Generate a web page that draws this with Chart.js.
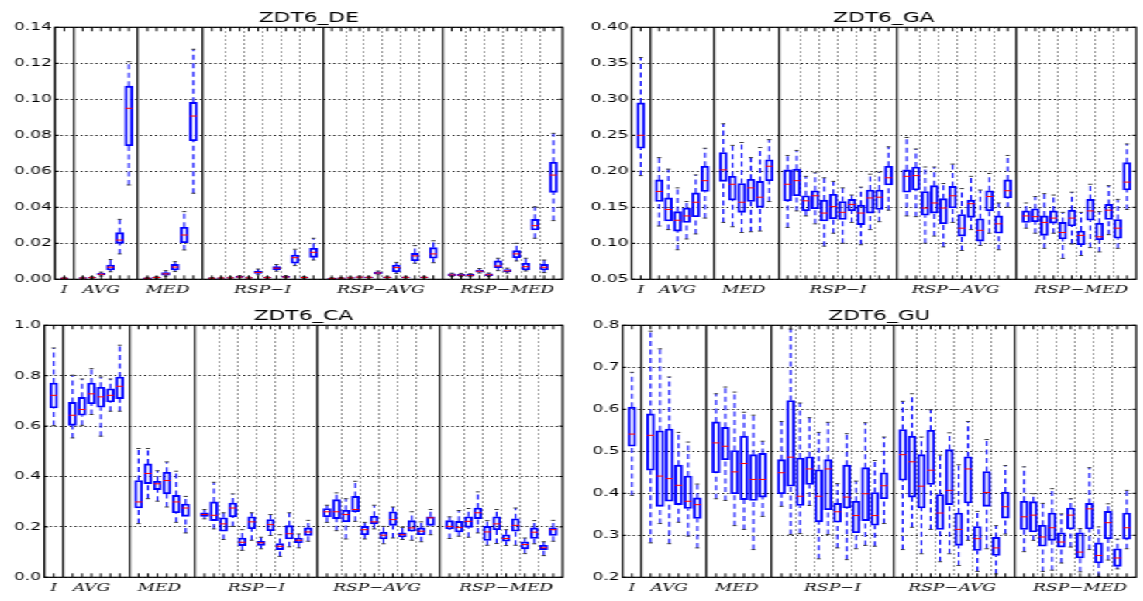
<!DOCTYPE html>
<html>
<head>
<meta charset="utf-8">
<script src="https://cdn.jsdelivr.net/npm/chart.js@4.4.0/dist/chart.umd.min.js"></script>
<style>
html, body { margin: 0; padding: 0; background: #fff; overflow: hidden; }
/* the figure is stretched sideways, so draw narrow and scale it */
#wrap { position: absolute; left: 0; top: 0; width: 738px; height: 601px; transform: scaleX(1.55); transform-origin: 0 0; }
#wrap canvas { position: absolute; }
</style>
</head>
<body>
<div id="wrap">
  <canvas id="cDE" width="368" height="300" style="left:0px;top:0px"></canvas>
  <canvas id="cGA" width="366" height="300" style="left:372px;top:0px"></canvas>
  <canvas id="cCA" width="368" height="300" style="left:0px;top:298.4px"></canvas>
  <canvas id="cGU" width="366" height="300" style="left:372px;top:298.4px"></canvas>
</div>
<script>
// groups along x
const groups = ['I', 'AVG', 'MED', 'RSP\u2212I', 'RSP\u2212AVG', 'RSP\u2212MED'];
const groupSize = [1, 6, 6, 12, 12, 12];
const labelX = [1, 5, 12.2, 22.5, 35.3, 49];

// ZDT6_DE
const deMin = [.0002, .0002,.0004,.0018,.0042,.0141,.0524, .0002,.0005,.0017,.0043,.0163,.0478, .0003,.0003,.0004,.0008,.0004,.0025,.0005,.0045,.0008,.0076,.0005,.0107, .0002,.0003,.0004,.0008,.0007,.0025,.0007,.0033,.0007,.0089,.0007,.0092, .0015,.0015,.0014,.0035,.0016,.0048,.0035,.0102,.0046,.0228,.0037,.0326];
const deQ1  = [.0004, .0005,.0007,.0024,.0052,.0200,.0742, .0004,.0008,.0023,.0052,.0203,.0770, .0005,.0005,.0006,.0011,.0006,.0033,.0007,.0053,.0011,.0089,.0008,.0122, .0004,.0005,.0006,.0010,.0009,.0030,.0009,.0042,.0009,.0103,.0009,.0117, .0019,.0019,.0018,.0040,.0020,.0064,.0042,.0120,.0052,.0274,.0052,.0483];
const deMed = [.0006, .0007,.0009,.0028,.0067,.0218,.0950, .0006,.0010,.0030,.0068,.0246,.0907, .0006,.0007,.0008,.0013,.0008,.0038,.0009,.0062,.0013,.0120,.0010,.0150, .0005,.0006,.0008,.0012,.0011,.0035,.0011,.0065,.0011,.0130,.0011,.0141, .0024,.0023,.0022,.0045,.0025,.0074,.0047,.0141,.0070,.0298,.0067,.0579];
const deQ3  = [.0008, .0009,.0011,.0033,.0079,.0259,.1073, .0008,.0012,.0037,.0083,.0289,.0983, .0008,.0008,.0010,.0016,.0010,.0045,.0011,.0070,.0016,.0135,.0012,.0172, .0007,.0008,.0010,.0014,.0013,.0040,.0013,.0079,.0013,.0144,.0013,.0176, .0030,.0028,.0027,.0051,.0030,.0102,.0054,.0159,.0089,.0333,.0083,.0650];
const deMax = [.0011, .0012,.0014,.0040,.0110,.0333,.1209, .0011,.0015,.0048,.0098,.0376,.1278, .0010,.0011,.0013,.0020,.0013,.0057,.0014,.0082,.0020,.0167,.0015,.0228, .0009,.0010,.0013,.0018,.0017,.0046,.0017,.0094,.0017,.0187,.0017,.0214, .0034,.0033,.0031,.0060,.0035,.0117,.0062,.0200,.0117,.0403,.0107,.0811];

// ZDT6_GA
const gaMin = [.194, .124,.119,.091,.106,.113,.135, .129,.123,.115,.116,.117,.158, .122,.145,.138,.127,.096,.114,.100,.129,.098,.119,.130,.146, .138,.137,.100,.110,.095,.129,.090,.119,.097,.114,.091,.150, .121,.114,.093,.114,.079,.099,.083,.094,.088,.112,.093,.147];
const gaQ1  = [.232, .158,.131,.117,.129,.137,.172, .186,.160,.143,.158,.150,.187, .159,.166,.145,.148,.131,.134,.133,.145,.126,.142,.147,.181, .171,.174,.139,.142,.127,.149,.110,.136,.103,.145,.114,.163, .129,.130,.111,.128,.106,.124,.098,.132,.105,.133,.107,.174];
const gaMed = [.250, .172,.147,.132,.138,.157,.187, .202,.182,.157,.177,.164,.207, .182,.187,.159,.166,.142,.151,.143,.154,.142,.163,.164,.191, .193,.194,.149,.156,.149,.166,.121,.155,.118,.165,.127,.173, .138,.137,.129,.135,.115,.135,.111,.145,.109,.146,.121,.185];
const gaQ3  = [.295, .188,.163,.144,.149,.170,.207, .226,.193,.183,.189,.186,.216, .202,.203,.166,.173,.160,.168,.158,.161,.153,.174,.174,.207, .202,.206,.172,.180,.162,.179,.140,.160,.134,.173,.138,.188, .145,.148,.138,.145,.129,.146,.117,.161,.128,.154,.133,.212];
const gaMax = [.358, .219,.203,.177,.158,.195,.232, .266,.236,.240,.219,.233,.244, .222,.229,.193,.198,.191,.186,.177,.167,.178,.196,.199,.234, .247,.231,.206,.206,.183,.210,.176,.193,.174,.197,.156,.222, .156,.165,.169,.167,.143,.171,.143,.182,.144,.180,.161,.238];

// ZDT6_CA
const caMin = [.602, .553,.603,.646,.560,.659,.659, .213,.312,.302,.279,.218,.176, .232,.192,.150,.202,.107,.147,.113,.166,.083,.121,.117,.143, .218,.185,.152,.222,.152,.192,.133,.156,.150,.147,.141,.169, .154,.163,.159,.176,.127,.134,.126,.127,.094,.133,.086,.143];
const caQ1  = [.672, .603,.643,.689,.675,.696,.709, .275,.372,.348,.331,.256,.242, .242,.225,.183,.240,.126,.193,.127,.185,.110,.152,.137,.166, .240,.233,.220,.260,.169,.212,.152,.206,.160,.183,.169,.206, .192,.180,.198,.233,.146,.189,.143,.183,.113,.154,.110,.166];
const caMed = [.722, .643,.666,.728,.716,.722,.758, .299,.412,.371,.384,.299,.275, .249,.246,.212,.275,.139,.220,.137,.209,.123,.173,.147,.180, .260,.260,.249,.269,.189,.220,.167,.229,.169,.196,.183,.236, .202,.198,.222,.256,.180,.212,.154,.206,.130,.179,.117,.189];
const caQ3  = [.771, .694,.714,.771,.754,.748,.795, .384,.450,.381,.417,.325,.291, .256,.299,.236,.295,.156,.240,.143,.229,.134,.205,.156,.196, .273,.308,.266,.321,.202,.242,.179,.260,.176,.225,.196,.240, .225,.222,.240,.275,.202,.240,.169,.232,.141,.196,.127,.196];
const caMax = [.910, .802,.787,.828,.795,.787,.921, .511,.511,.423,.458,.421,.321, .269,.377,.256,.331,.189,.256,.159,.249,.169,.256,.172,.226, .286,.335,.312,.381,.218,.286,.202,.279,.198,.260,.220,.269, .240,.265,.273,.339,.225,.269,.189,.275,.156,.225,.141,.226];

// ZDT6_GU
const guMin = [.395, .282,.328,.280,.331,.298,.270, .387,.383,.323,.314,.266,.345, .369,.302,.304,.371,.244,.302,.270,.242, .268,.276,.274,.328, .266,.319,.256,.314,.237,.256,.228,.288,.214,.268,.208,.303, .261,.288,.214,.217,.234,.272,.213,.266,.202,.241,.220,.268];
const guQ1  = [.512, .455,.369,.381,.373,.364,.340, .449,.480,.399,.385,.383,.391, .399,.417,.371,.421,.332,.361,.331,.365, .306,.335,.324,.387, .431,.391,.365,.421,.314,.373,.276,.377,.264,.369,.252,.341, .314,.308,.274,.288,.272,.315,.246,.315,.234,.292,.226,.291];
const guMed = [.541, .538,.441,.435,.419,.381,.373, .520,.512,.451,.471,.433,.433, .449,.486,.393,.458,.393,.458,.356,.391, .347,.399,.347,.418, .492,.475,.417,.455,.353,.407,.314,.458,.292,.402,.270,.368, .344,.348,.296,.318,.284,.348,.260,.363,.252,.330,.246,.318];
const guQ3  = [.605, .589,.549,.553,.467,.441,.389, .570,.557,.502,.536,.492,.495, .480,.621,.484,.487,.456,.480,.376,.467, .381,.461,.402,.449, .552,.536,.492,.550,.397,.504,.353,.487,.321,.452,.295,.403, .381,.380,.324,.353,.306,.365,.306,.376,.282,.357,.268,.353];
const guMax = [.688, .786,.744,.677,.545,.522,.422, .637,.653,.641,.593,.586,.524, .571,.791,.615,.580,.545,.569,.423,.542, .429,.568,.478,.534, .619,.637,.534,.599,.491,.544,.468,.571,.357,.528,.323,.466, .463,.399,.376,.411,.351,.387,.316,.461,.320,.375,.291,.407];

// box positions: one empty slot before/after every group
const boxX = [], sepX = [], pairX = [];
let pos = 0;
groupSize.forEach((n, g) => {
  for (let k = 1; k <= n; k++) boxX.push(pos + k);
  if (n > 6) for (let k = 2; k < n; k += 2) pairX.push(pos + k + 0.5);
  pos += n + 1;
  if (g < groupSize.length - 1) sepX.push(pos);
});
const xMax = pos;

const frame = {
  id: 'frame',
  afterDatasetsDraw(chart) {
    const {ctx, chartArea: a, scales} = chart;
    ctx.save();
    ctx.strokeStyle = '#000';
    ctx.lineWidth = 1;
    ctx.beginPath();
    boxX.forEach(v => {
      const px = scales.x.getPixelForValue(v);
      ctx.moveTo(px, a.bottom); ctx.lineTo(px, a.bottom - 4);
      ctx.moveTo(px, a.top); ctx.lineTo(px, a.top + 4);
    });
    scales.y.ticks.forEach(t => {
      const py = scales.y.getPixelForValue(t.value);
      ctx.moveTo(a.left, py); ctx.lineTo(a.left + 2.5, py);
      ctx.moveTo(a.right, py); ctx.lineTo(a.right - 2.5, py);
    });
    ctx.stroke();
    ctx.lineWidth = 1.2;
    ctx.strokeRect(a.left, a.top, a.right - a.left, a.bottom - a.top);
    ctx.restore();
  }
};

function xAxis(ticksAt, extra) {
  return Object.assign({
    type: 'linear', axis: 'x', position: 'bottom', min: 0, max: xMax, offset: false,
    afterBuildTicks: a => { a.ticks = ticksAt.map(v => ({value: v})); }
  }, extra);
}

function panel(id, title, yMin, yMax, yStep, yDec, yW, padR, mins, q1s, meds, q3s, maxs) {
  const whisk = [], caps = [], boxes = [], medPts = [];
  boxX.forEach((x, i) => {
    whisk.push({x: x, y: mins[i]}, {x: x, y: q1s[i]}, {x: x, y: null},
               {x: x, y: q3s[i]}, {x: x, y: maxs[i]}, {x: x, y: null});
    caps.push({x: x, y: mins[i]}, {x: x, y: maxs[i]});
    boxes.push({x: x, y: [q1s[i], q3s[i]]});
    medPts.push({x: x, y: meds[i]});
  });

  new Chart(document.getElementById(id), {
    type: 'bar',
    data: {
      datasets: [
        {type: 'line', data: medPts, showLine: false, pointStyle: 'line', pointRadius: 2.3,
         pointBorderColor: '#ff0000', pointBorderWidth: 1, order: 0},
        {type: 'line', data: caps, showLine: false, pointStyle: 'line', pointRadius: 1.3,
         pointBorderColor: '#333', pointBorderWidth: 1, order: 1},
        {type: 'bar', data: boxes, backgroundColor: 'rgba(0,0,0,0)', borderColor: '#0000ff',
         borderWidth: 1.2, borderSkipped: false, barThickness: 5, grouped: false, order: 2},
        {type: 'line', data: whisk, borderColor: '#0000ff', borderWidth: 1.1, borderDash: [5, 3.5],
         pointRadius: 0, spanGaps: false, fill: false, order: 3}
      ]
    },
    options: {
      responsive: false,
      animation: false,
      events: [],
      layout: {padding: {left: 0, right: padR, top: 0, bottom: 0.7}},
      plugins: {
        legend: {display: false},
        tooltip: {enabled: false},
        title: {
          display: true, text: title, color: '#000', fullSize: false,
          font: {family: 'DejaVu Sans', size: 14, weight: 'normal', lineHeight: 1.2},
          padding: {top: 9.5, bottom: 1}
        }
      },
      scales: {
        x: xAxis(pairX, {
          grid: {color: '#777', lineWidth: 1, drawTicks: false, offset: false},
          border: {display: false, dash: [1.5, 2.5]},
          ticks: {display: false},
          afterFit: a => { a.height = 0; }
        }),
        xs: xAxis(sepX, {
          grid: {color: '#222', lineWidth: 1.3, drawTicks: false, offset: false},
          border: {display: false},
          ticks: {display: false},
          afterFit: a => { a.height = 0; }
        }),
        xl: xAxis(labelX, {
          grid: {display: false, drawTicks: false, offset: false},
          border: {display: false},
          ticks: {
            autoSkip: false, maxRotation: 0, padding: 4, color: '#000',
            font: {family: 'DejaVu Serif', style: 'italic', size: 11},
            callback: (v, i) => groups[i]
          },
          afterFit: a => { a.height = 20; }
        }),
        y: {
          min: yMin, max: yMax,
          grid: {color: '#000', lineWidth: 1, drawTicks: false},
          border: {display: false, dash: [1.2, 2]},
          ticks: {
            stepSize: yStep, padding: 2, color: '#000',
            font: {family: 'DejaVu Sans', size: 11},
            callback: v => v.toFixed(yDec)
          },
          afterFit: a => { a.width = yW; }
        }
      }
    },
    plugins: [frame]
  });
}

panel('cDE', 'ZDT6_DE', 0, 0.14, 0.02, 2, 35.5, 2.8, deMin, deQ1, deMed, deQ3, deMax);
panel('cGA', 'ZDT6_GA', 0.05, 0.40, 0.05, 2, 35.5, 0.9, gaMin, gaQ1, gaMed, gaQ3, gaMax);
panel('cCA', 'ZDT6_CA', 0, 1.0, 0.2, 1, 28.6, 2.8, caMin, caQ1, caMed, caQ3, caMax);
panel('cGU', 'ZDT6_GU', 0.2, 0.8, 0.1, 1, 29.7, 0.9, guMin, guQ1, guMed, guQ3, guMax);
</script>
</body>
</html>
